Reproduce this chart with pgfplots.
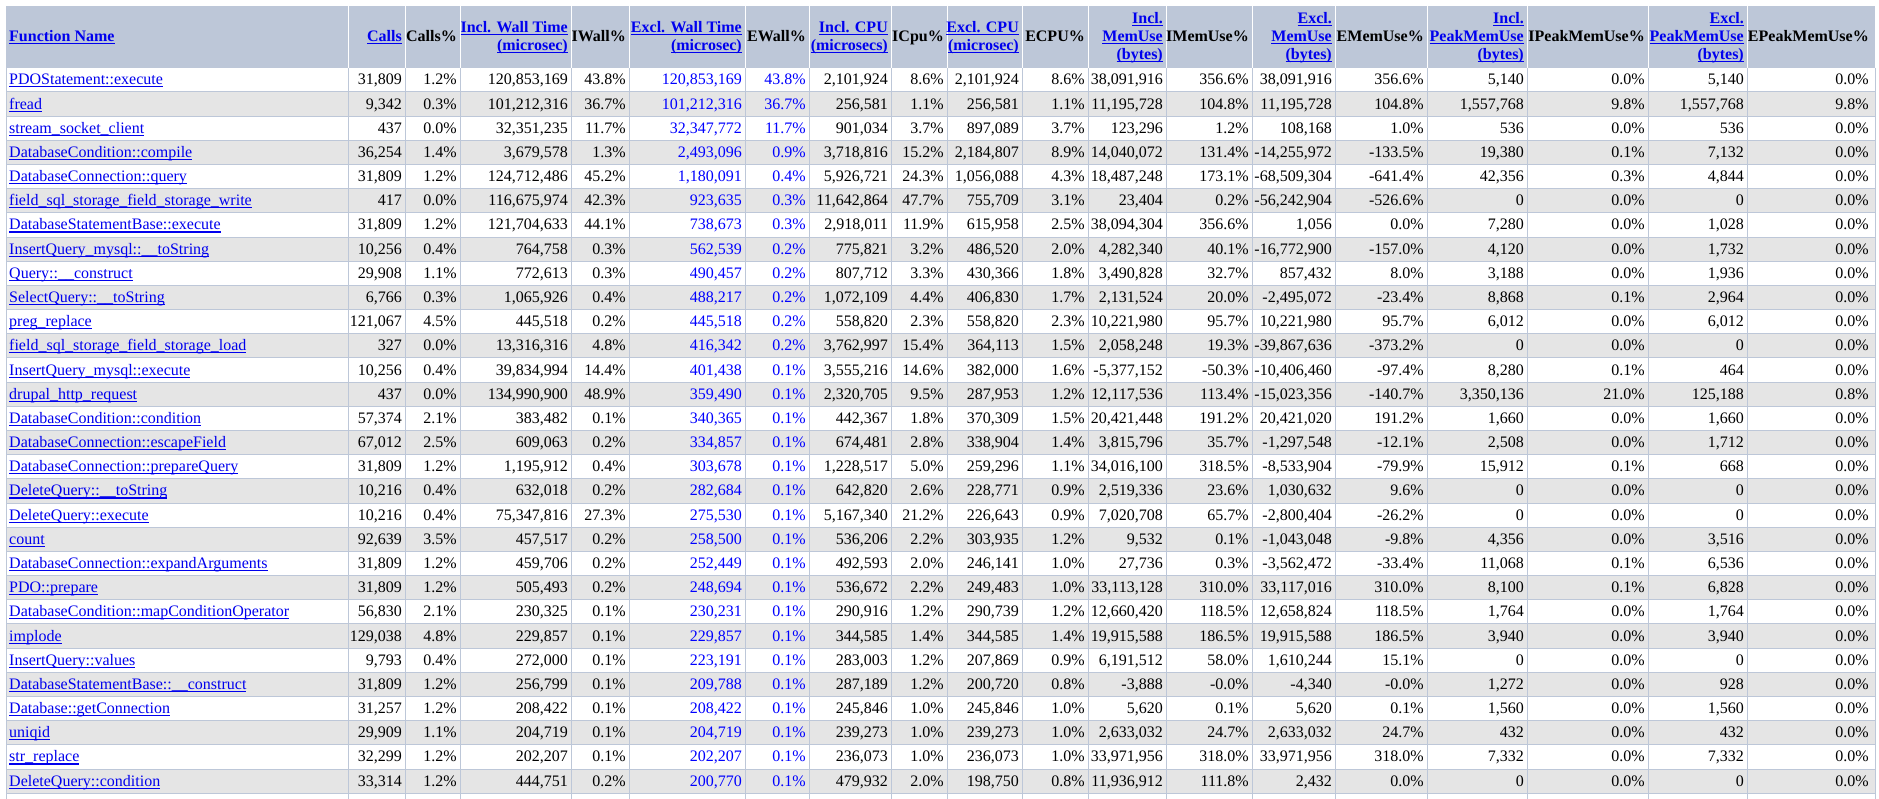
\documentclass[border=0pt]{standalone}
\usepackage{fontspec}
\setmainfont{Liberation Serif}[Ligatures={NoCommon}]
\usepackage{pgfplots}
\usepackage{pgfplotstable}
\pgfplotsset{compat=1.18}
\definecolor{hdrbg}{HTML}{BDC7D8}
\definecolor{rowgray}{HTML}{E5E5E5}
\definecolor{gridc}{HTML}{BDC7D8}
\definecolor{linkblue}{HTML}{0000EE}
\definecolor{sortblue}{HTML}{0000FF}
\newsavebox\ulbox
\newcommand\myul[1]{\sbox\ulbox{#1}\rlap{\rule[-2.6pt]{\wd\ulbox}{1.1pt}}\usebox\ulbox}
\newcommand\cellfont{\fontsize{16}{19}\selectfont}
\newcommand\hdrfont{\fontsize{16}{19}\selectfont\bfseries}
\pgfplotsset{
  txt/.style={draw=none, mark=none, point meta=explicit symbolic, forget plot},
  numR/.style={txt, nodes near coords={\pgfplotspointmeta},
    every node near coord/.append style={anchor=base east, inner sep=0pt, font=\cellfont, text=#1}},
  numR/.default=black,
  pctR/.style={txt, nodes near coords={\pgfplotspointmeta\%},
    every node near coord/.append style={anchor=base east, inner sep=0pt, font=\cellfont, text=#1}},
  pctR/.default=black,
  nameL/.style={txt, nodes near coords={\myul{\pgfplotspointmeta}},
    every node near coord/.append style={anchor=base west, inner sep=0pt, font=\cellfont, text=linkblue}},
  hdrLink/.style={txt, nodes near coords={\myul{\pgfplotspointmeta}},
    every node near coord/.append style={anchor=base east, inner sep=0pt, font=\hdrfont, text=linkblue}},
  hdrLinkL/.style={txt, nodes near coords={\myul{\pgfplotspointmeta}},
    every node near coord/.append style={anchor=base west, inner sep=0pt, font=\hdrfont, text=linkblue}},
  hdrPlain/.style={txt, nodes near coords={\pgfplotspointmeta\%},
    every node near coord/.append style={anchor=base east, inner sep=0pt, font=\hdrfont, text=black}},
}
\begin{document}
\catcode`\_=12
\pgfplotstableread[col sep=semicolon]{
y;name;calls;callsp;iw;iwp;ew;ewp;ic;icp;ec;ecp;im;imp;em;emp;ip;ipp;ep;epp
84.90;PDOStatement::execute;31,809;1.2;120,853,169;43.8;120,853,169;43.8;2,101,924;8.6;2,101,924;8.6;38,091,916;356.6;38,091,916;356.6;5,140;0.0;5,140;0.0
109.08;fread;9,342;0.3;101,212,316;36.7;101,212,316;36.7;256,581;1.1;256,581;1.1;11,195,728;104.8;11,195,728;104.8;1,557,768;9.8;1,557,768;9.8
133.26;stream_socket_client;437;0.0;32,351,235;11.7;32,347,772;11.7;901,034;3.7;897,089;3.7;123,296;1.2;108,168;1.0;536;0.0;536;0.0
157.44;DatabaseCondition::compile;36,254;1.4;3,679,578;1.3;2,493,096;0.9;3,718,816;15.2;2,184,807;8.9;14,040,072;131.4;-14,255,972;-133.5;19,380;0.1;7,132;0.0
181.62;DatabaseConnection::query;31,809;1.2;124,712,486;45.2;1,180,091;0.4;5,926,721;24.3;1,056,088;4.3;18,487,248;173.1;-68,509,304;-641.4;42,356;0.3;4,844;0.0
205.80;field_sql_storage_field_storage_write;417;0.0;116,675,974;42.3;923,635;0.3;11,642,864;47.7;755,709;3.1;23,404;0.2;-56,242,904;-526.6;0;0.0;0;0.0
229.98;DatabaseStatementBase::execute;31,809;1.2;121,704,633;44.1;738,673;0.3;2,918,011;11.9;615,958;2.5;38,094,304;356.6;1,056;0.0;7,280;0.0;1,028;0.0
254.16;InsertQuery_mysql::__toString;10,256;0.4;764,758;0.3;562,539;0.2;775,821;3.2;486,520;2.0;4,282,340;40.1;-16,772,900;-157.0;4,120;0.0;1,732;0.0
278.34;Query::__construct;29,908;1.1;772,613;0.3;490,457;0.2;807,712;3.3;430,366;1.8;3,490,828;32.7;857,432;8.0;3,188;0.0;1,936;0.0
302.52;SelectQuery::__toString;6,766;0.3;1,065,926;0.4;488,217;0.2;1,072,109;4.4;406,830;1.7;2,131,524;20.0;-2,495,072;-23.4;8,868;0.1;2,964;0.0
326.70;preg_replace;121,067;4.5;445,518;0.2;445,518;0.2;558,820;2.3;558,820;2.3;10,221,980;95.7;10,221,980;95.7;6,012;0.0;6,012;0.0
350.88;field_sql_storage_field_storage_load;327;0.0;13,316,316;4.8;416,342;0.2;3,762,997;15.4;364,113;1.5;2,058,248;19.3;-39,867,636;-373.2;0;0.0;0;0.0
375.06;InsertQuery_mysql::execute;10,256;0.4;39,834,994;14.4;401,438;0.1;3,555,216;14.6;382,000;1.6;-5,377,152;-50.3;-10,406,460;-97.4;8,280;0.1;464;0.0
399.24;drupal_http_request;437;0.0;134,990,900;48.9;359,490;0.1;2,320,705;9.5;287,953;1.2;12,117,536;113.4;-15,023,356;-140.7;3,350,136;21.0;125,188;0.8
423.42;DatabaseCondition::condition;57,374;2.1;383,482;0.1;340,365;0.1;442,367;1.8;370,309;1.5;20,421,448;191.2;20,421,020;191.2;1,660;0.0;1,660;0.0
447.60;DatabaseConnection::escapeField;67,012;2.5;609,063;0.2;334,857;0.1;674,481;2.8;338,904;1.4;3,815,796;35.7;-1,297,548;-12.1;2,508;0.0;1,712;0.0
471.78;DatabaseConnection::prepareQuery;31,809;1.2;1,195,912;0.4;303,678;0.1;1,228,517;5.0;259,296;1.1;34,016,100;318.5;-8,533,904;-79.9;15,912;0.1;668;0.0
495.96;DeleteQuery::__toString;10,216;0.4;632,018;0.2;282,684;0.1;642,820;2.6;228,771;0.9;2,519,336;23.6;1,030,632;9.6;0;0.0;0;0.0
520.14;DeleteQuery::execute;10,216;0.4;75,347,816;27.3;275,530;0.1;5,167,340;21.2;226,643;0.9;7,020,708;65.7;-2,800,404;-26.2;0;0.0;0;0.0
544.32;count;92,639;3.5;457,517;0.2;258,500;0.1;536,206;2.2;303,935;1.2;9,532;0.1;-1,043,048;-9.8;4,356;0.0;3,516;0.0
568.50;DatabaseConnection::expandArguments;31,809;1.2;459,706;0.2;252,449;0.1;492,593;2.0;246,141;1.0;27,736;0.3;-3,562,472;-33.4;11,068;0.1;6,536;0.0
592.68;PDO::prepare;31,809;1.2;505,493;0.2;248,694;0.1;536,672;2.2;249,483;1.0;33,113,128;310.0;33,117,016;310.0;8,100;0.1;6,828;0.0
616.86;DatabaseCondition::mapConditionOperator;56,830;2.1;230,325;0.1;230,231;0.1;290,916;1.2;290,739;1.2;12,660,420;118.5;12,658,824;118.5;1,764;0.0;1,764;0.0
641.04;implode;129,038;4.8;229,857;0.1;229,857;0.1;344,585;1.4;344,585;1.4;19,915,588;186.5;19,915,588;186.5;3,940;0.0;3,940;0.0
665.22;InsertQuery::values;9,793;0.4;272,000;0.1;223,191;0.1;283,003;1.2;207,869;0.9;6,191,512;58.0;1,610,244;15.1;0;0.0;0;0.0
689.40;DatabaseStatementBase::__construct;31,809;1.2;256,799;0.1;209,788;0.1;287,189;1.2;200,720;0.8;-3,888;-0.0;-4,340;-0.0;1,272;0.0;928;0.0
713.58;Database::getConnection;31,257;1.2;208,422;0.1;208,422;0.1;245,846;1.0;245,846;1.0;5,620;0.1;5,620;0.1;1,560;0.0;1,560;0.0
737.76;uniqid;29,909;1.1;204,719;0.1;204,719;0.1;239,273;1.0;239,273;1.0;2,633,032;24.7;2,633,032;24.7;432;0.0;432;0.0
761.94;str_replace;32,299;1.2;202,207;0.1;202,207;0.1;236,073;1.0;236,073;1.0;33,971,956;318.0;33,971,956;318.0;7,332;0.0;7,332;0.0
786.12;DeleteQuery::condition;33,314;1.2;444,751;0.2;200,770;0.1;479,932;2.0;198,750;0.8;11,936,912;111.8;2,432;0.0;0;0.0;0;0.0
}\datatable
\pgfplotstableread[col sep=semicolon]{
x;y;t
402;41.5;Calls
568;32.5;Incl. Wall Time
568;50.5;(microsec)
742;32.5;Excl. Wall Time
742;50.5;(microsec)
888;32.5;Incl. CPU
888;50.5;(microsecs)
1019;32.5;Excl. CPU
1019;50.5;(microsec)
1163;23.5;Incl.
1163;41.5;MemUse
1163;59.5;(bytes)
1332;23.5;Excl.
1332;41.5;MemUse
1332;59.5;(bytes)
1524;23.5;Incl.
1524;41.5;PeakMemUse
1524;59.5;(bytes)
1744;23.5;Excl.
1744;41.5;PeakMemUse
1744;59.5;(bytes)
}\hdrlinks
\pgfplotstableread[col sep=semicolon]{
x;y;t
457;41.5;Calls
626;41.5;IWall
806;41.5;EWall
944;41.5;ICpu
1085;41.5;ECPU
1249;41.5;IMemUse
1424;41.5;EMemUse
1645;41.5;IPeakMemUse
1869;41.5;EPeakMemUse
}\hdrplain
\pgfplotstableread[col sep=semicolon]{
x;y;t
9;41.5;Function Name
}\hdrname
\begin{tikzpicture}
\begin{axis}[
  width=1879pt, height=799pt, scale only axis,
  xmin=0, xmax=1879, ymin=0, ymax=799, y dir=reverse,
  hide axis, clip=true,
]
% page background
\addplot[fill=white, draw=none, forget plot] coordinates {(0,0) (1879,0) (1879,799) (0,799)} -- cycle;
% header background
\addplot[fill=hdrbg, draw=none, forget plot] coordinates {(6,6) (1875,6) (1875,67.8) (6,67.8)} -- cycle;
% gray rows
\addplot[draw=rowgray, line width=24.18pt, unbounded coords=jump, forget plot] table {
x y
6 104.07
1875 104.07
nan nan
6 152.43
1875 152.43
nan nan
6 200.79
1875 200.79
nan nan
6 249.15
1875 249.15
nan nan
6 297.51
1875 297.51
nan nan
6 345.87
1875 345.87
nan nan
6 394.23
1875 394.23
nan nan
6 442.59
1875 442.59
nan nan
6 490.95
1875 490.95
nan nan
6 539.31
1875 539.31
nan nan
6 587.67
1875 587.67
nan nan
6 636.03
1875 636.03
nan nan
6 684.39
1875 684.39
nan nan
6 732.75
1875 732.75
nan nan
6 781.11
1875 781.11
};
% horizontal rules
\addplot[draw=gridc, line width=1pt, unbounded coords=jump, forget plot] table {
x y
6 67.8
1875 67.8
nan nan
6 91.98
1875 91.98
nan nan
6 116.16
1875 116.16
nan nan
6 140.34
1875 140.34
nan nan
6 164.52
1875 164.52
nan nan
6 188.70
1875 188.70
nan nan
6 212.88
1875 212.88
nan nan
6 237.06
1875 237.06
nan nan
6 261.24
1875 261.24
nan nan
6 285.42
1875 285.42
nan nan
6 309.60
1875 309.60
nan nan
6 333.78
1875 333.78
nan nan
6 357.96
1875 357.96
nan nan
6 382.14
1875 382.14
nan nan
6 406.32
1875 406.32
nan nan
6 430.50
1875 430.50
nan nan
6 454.68
1875 454.68
nan nan
6 478.86
1875 478.86
nan nan
6 503.04
1875 503.04
nan nan
6 527.22
1875 527.22
nan nan
6 551.40
1875 551.40
nan nan
6 575.58
1875 575.58
nan nan
6 599.76
1875 599.76
nan nan
6 623.94
1875 623.94
nan nan
6 648.12
1875 648.12
nan nan
6 672.30
1875 672.30
nan nan
6 696.48
1875 696.48
nan nan
6 720.66
1875 720.66
nan nan
6 744.84
1875 744.84
nan nan
6 769.02
1875 769.02
nan nan
6 793.20
1875 793.20
};
% vertical rules in body
\addplot[draw=gridc, line width=1pt, unbounded coords=jump, forget plot] table {
x y
6 67.8
6 799
nan nan
348 67.8
348 799
nan nan
405 67.8
405 799
nan nan
460 67.8
460 799
nan nan
571 67.8
571 799
nan nan
629 67.8
629 799
nan nan
745 67.8
745 799
nan nan
809 67.8
809 799
nan nan
891 67.8
891 799
nan nan
947 67.8
947 799
nan nan
1022 67.8
1022 799
nan nan
1088 67.8
1088 799
nan nan
1166 67.8
1166 799
nan nan
1252 67.8
1252 799
nan nan
1335 67.8
1335 799
nan nan
1427 67.8
1427 799
nan nan
1527 67.8
1527 799
nan nan
1648 67.8
1648 799
nan nan
1747 67.8
1747 799
nan nan
1875 67.8
1875 799
};
% white separators in header
\addplot[draw=white, line width=1pt, unbounded coords=jump, forget plot] table {
x y
348 6
348 67.8
nan nan
405 6
405 67.8
nan nan
460 6
460 67.8
nan nan
571 6
571 67.8
nan nan
629 6
629 67.8
nan nan
745 6
745 67.8
nan nan
809 6
809 67.8
nan nan
891 6
891 67.8
nan nan
947 6
947 67.8
nan nan
1022 6
1022 67.8
nan nan
1088 6
1088 67.8
nan nan
1166 6
1166 67.8
nan nan
1252 6
1252 67.8
nan nan
1335 6
1335 67.8
nan nan
1427 6
1427 67.8
nan nan
1527 6
1527 67.8
nan nan
1648 6
1648 67.8
nan nan
1747 6
1747 67.8
};
% header texts
\addplot[hdrLinkL] table[x=x, y=y, meta=t] {\hdrname};
\addplot[hdrLink] table[x=x, y=y, meta=t] {\hdrlinks};
\addplot[hdrPlain] table[x=x, y=y, meta=t] {\hdrplain};
% body texts
\addplot[nameL] table[x expr=9, y=y, meta=name] {\datatable};
\addplot[numR] table[x expr=402, y=y, meta=calls] {\datatable};
\addplot[pctR] table[x expr=457, y=y, meta=callsp] {\datatable};
\addplot[numR] table[x expr=568, y=y, meta=iw] {\datatable};
\addplot[pctR] table[x expr=626, y=y, meta=iwp] {\datatable};
\addplot[numR=sortblue] table[x expr=742, y=y, meta=ew] {\datatable};
\addplot[pctR=sortblue] table[x expr=806, y=y, meta=ewp] {\datatable};
\addplot[numR] table[x expr=888, y=y, meta=ic] {\datatable};
\addplot[pctR] table[x expr=944, y=y, meta=icp] {\datatable};
\addplot[numR] table[x expr=1019, y=y, meta=ec] {\datatable};
\addplot[pctR] table[x expr=1085, y=y, meta=ecp] {\datatable};
\addplot[numR] table[x expr=1163, y=y, meta=im] {\datatable};
\addplot[pctR] table[x expr=1249, y=y, meta=imp] {\datatable};
\addplot[numR] table[x expr=1332, y=y, meta=em] {\datatable};
\addplot[pctR] table[x expr=1424, y=y, meta=emp] {\datatable};
\addplot[numR] table[x expr=1524, y=y, meta=ip] {\datatable};
\addplot[pctR] table[x expr=1645, y=y, meta=ipp] {\datatable};
\addplot[numR] table[x expr=1744, y=y, meta=ep] {\datatable};
\addplot[pctR] table[x expr=1869, y=y, meta=epp] {\datatable};
\end{axis}
\end{tikzpicture}
\end{document}
